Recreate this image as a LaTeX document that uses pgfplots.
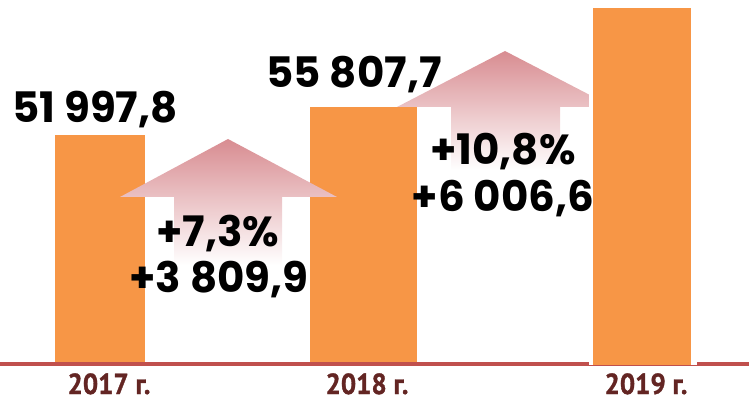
\documentclass[border=0pt]{standalone}
\usepackage{fontspec}
\setmainfont{Poppins}
\newfontfamily\yearfont{PT Sans}[BoldFeatures={FakeBold=1.2}]
\usepackage{graphicx}
\usepackage{pgfplots}
\pgfplotsset{compat=1.18}

\definecolor{barorange}{HTML}{F79646}
\definecolor{basered}{HTML}{C0504D}
\definecolor{yearred}{HTML}{632523}
\definecolor{arrowpink}{RGB}{216,140,145}

\newcommand{\val}[1]{\fontsize{42}{42}\selectfont\bfseries #1}
\newcommand{\yr}[1]{\scalebox{0.93}[1]{\yearfont\fontsize{29}{29}\selectfont\bfseries #1}}

\begin{document}
\begin{tikzpicture}
\begin{axis}[
  width=749pt, height=402pt, scale only axis,
  xmin=0, xmax=749, ymin=-37, ymax=365,
  hide axis, clip=false,
]
% bars 2017, 2018
\addplot[ybar, bar shift=0pt, bar width=90, fill=barorange, draw=none] coordinates {(100,230)};
\addplot[ybar, bar shift=0pt, bar width=107, fill=barorange, draw=none] coordinates {(363.5,258)};

% growth arrows
\addplot[draw=none, top color=arrowpink, bottom color=white] coordinates {
  (228,226) (337,168) (282,168) (282,100) (174,100) (174,168) (120,168) (228,226)};
\addplot[draw=none, top color=arrowpink, bottom color=white] coordinates {
  (505,314) (613,258) (560,258) (560,195) (451,195) (451,258) (397,258) (505,314)};

% baseline
\addplot[basered, line width=3.5pt] coordinates {(0,1) (749,1)};

% bar 2019 with white gap
\addplot[ybar, bar shift=0pt, bar width=108, fill=white, draw=none] coordinates {(643,362)};
\addplot[ybar, bar shift=0pt, bar width=98, fill=barorange, draw=none] coordinates {(642,357)};

% labels
\node[anchor=base] at (axis cs:95,242) {\val{51 997,8}};
\node[anchor=base] at (axis cs:354,277) {\val{55 807,7}};
\node[anchor=base] at (axis cs:218,119) {\val{+7,3\%}};
\node[anchor=base] at (axis cs:219,73) {\val{+3 809,9}};
\node[anchor=base] at (axis cs:503,200) {\val{+10,8\%}};
\node[anchor=base] at (axis cs:503,153) {\val{+6 006,6}};

\node[anchor=base, text=yearred] at (axis cs:109,-29) {\yr{2017 г.}};
\node[anchor=base, text=yearred] at (axis cs:367,-29) {\yr{2018 г.}};
\node[anchor=base, text=yearred] at (axis cs:646,-29) {\yr{2019 г.}};
\end{axis}
\pgfresetboundingbox
\path (current axis.south west) rectangle (current axis.north east);
\end{tikzpicture}
\end{document}
